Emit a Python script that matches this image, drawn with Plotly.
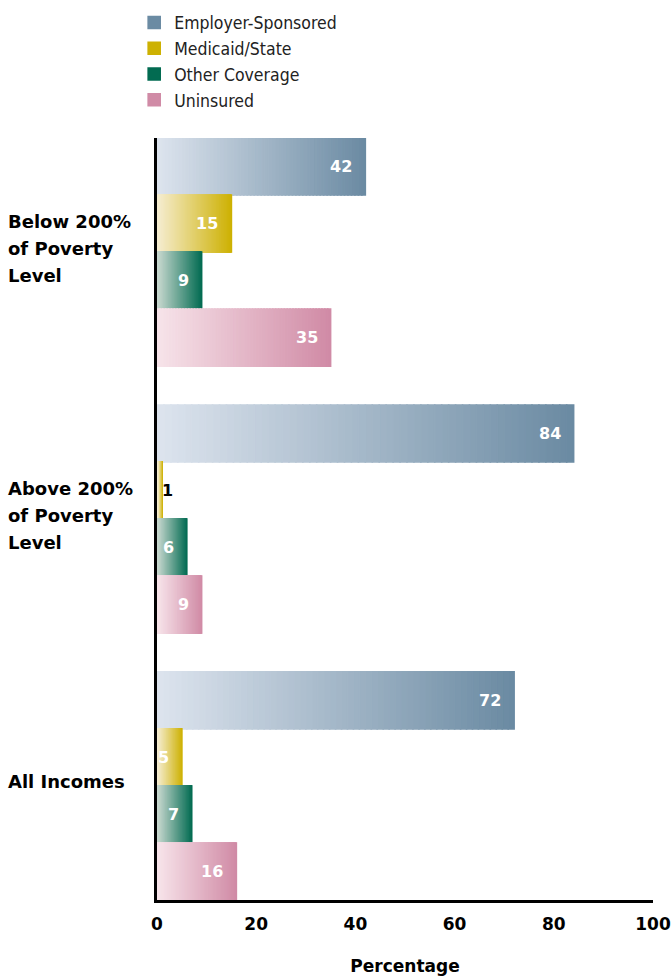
import plotly.graph_objects as go

categories = ["Below 200%<br>of Poverty<br>Level", "Above 200%<br>of Poverty<br>Level", "All Incomes"]
series_names = ["Employer-Sponsored", "Medicaid/State", "Other Coverage", "Uninsured"]
employer = [42, 84, 72]
medicaid = [15, 1, 5]
other = [9, 6, 7]
uninsured = [35, 9, 16]
x_ticks = [0, 20, 40, 60, 80, 100]

values = [employer, medicaid, other, uninsured]
light = ["#dde4ee", "#f5edd0", "#c8d8cf", "#f7e4ea"]
dark = ["#6a8aa2", "#cdb000", "#006a50", "#d08aa5"]

N = 60
GAP = 0.68
FONT = "DejaVu Sans"


def hex2rgb(h):
    h = h.lstrip("#")
    return tuple(int(h[i:i + 2], 16) for i in (0, 2, 4))


def mix(a, b, t):
    ra, rb = hex2rgb(a), hex2rgb(b)
    return "rgb(%d,%d,%d)" % tuple(round(ra[i] + (rb[i] - ra[i]) * t) for i in range(3))


def pos(c, s):
    return c * (4 + GAP) + s + 0.5


fig = go.Figure()
for s, name in enumerate(series_names):
    ys, xs, bases, cols = [], [], [], []
    for k in reversed(range(N)):
        for c in range(len(categories)):
            v = values[s][c]
            ys.append(pos(c, s))
            xs.append(v / N)
            bases.append(v * k / N)
            cols.append(mix(light[s], dark[s], (k + 0.5) / N))
    fig.add_trace(go.Bar(
        name=name, orientation="h", y=ys, x=xs, base=bases, width=1,
        marker=dict(color=cols, line=dict(color=cols, width=1.6)),
        hoverinfo="skip",
    ))

annotations = []
for s in range(len(series_names)):
    for c in range(len(categories)):
        v = values[s][c]
        if v >= 3:
            annotations.append(dict(x=v, y=pos(c, s), xref="x", yref="y", text=str(v),
                                    xanchor="right", xshift=-11, showarrow=False,
                                    font=dict(family=FONT, size=16, color="white", weight="bold")))
        else:
            annotations.append(dict(x=v, y=pos(c, s), xref="x", yref="y", text=str(v),
                                    xanchor="left", xshift=-2, showarrow=False,
                                    font=dict(family=FONT, size=16, color="black", weight="bold")))

for c, label in enumerate(categories):
    lines = label.split("<br>")
    center = c * (4 + GAP) + 2
    n = len(lines)
    for i, line in enumerate(lines):
        annotations.append(dict(x=-0.304, y=center, xref="paper", yref="y", text=line,
                                xanchor="left", yanchor="middle", showarrow=False,
                                yshift=4 + ((n - 1) / 2 - i) * 27,
                                font=dict(family=FONT, size=18, color="black", weight="bold")))

fig.update_layout(
    width=671, height=976,
    margin=dict(l=157, r=18, t=138, b=76, autoexpand=False),
    paper_bgcolor="white", plot_bgcolor="white",
    barmode="overlay",
    showlegend=True,
    legend=dict(x=-0.046, y=1.175, xanchor="left", yanchor="top",
                font=dict(family="Liberation Sans Narrow, DejaVu Sans Condensed, Liberation Sans",
                          size=17.5, color="#222"),
                bgcolor="rgba(0,0,0,0)", traceorder="normal", itemclick=False),
    annotations=annotations,
    xaxis=dict(range=[0, 100], tickvals=x_ticks, ticktext=[str(t) for t in x_ticks],
               showline=True, linecolor="black", linewidth=3, showgrid=False, zeroline=False,
               ticks="outside", ticklen=7, tickcolor="white",
               tickfont=dict(family=FONT, size=17, color="black", weight="bold"),
               title=dict(text="Percentage", standoff=30,
                          font=dict(family=FONT, size=17, color="black", weight="bold"))),
    yaxis=dict(range=[12 + 2 * GAP, 0], showline=True, linecolor="black", linewidth=3,
               showgrid=False, zeroline=False, showticklabels=False, ticks=""),
)

fig.write_html("out.html")
